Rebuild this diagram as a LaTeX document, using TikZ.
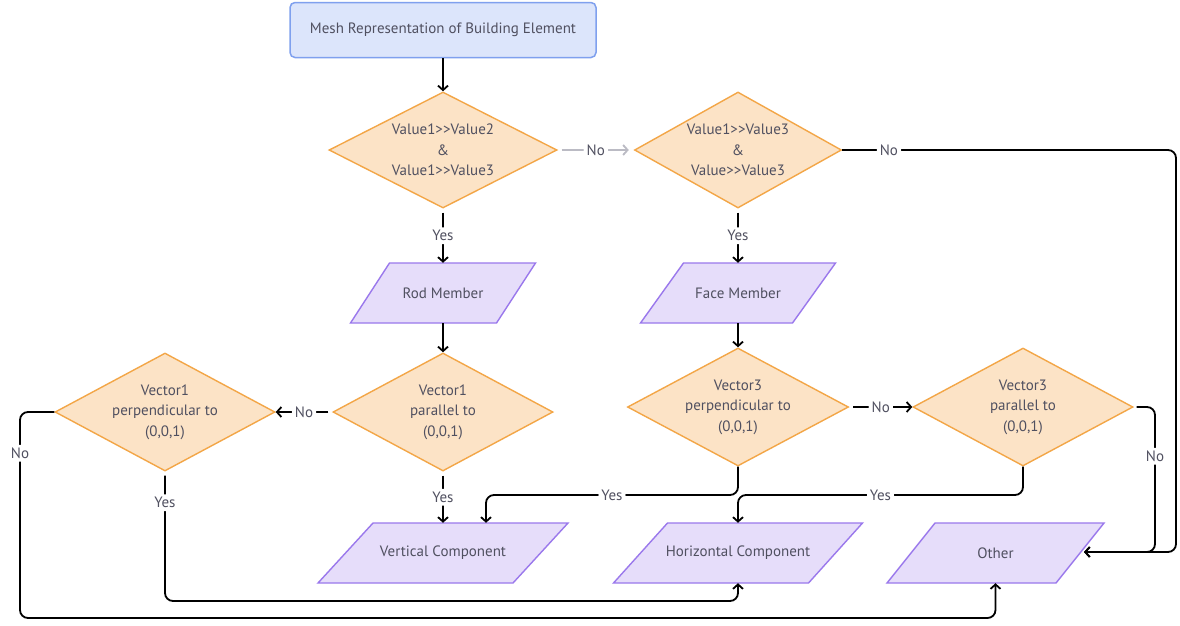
\documentclass[tikz,border=0pt]{standalone}
\usepackage{fontspec}
\setmainfont{PT Sans}
\usetikzlibrary{shapes.geometric,arrows.meta,calc}
\definecolor{startfill}{HTML}{DCE5FB}
\definecolor{startdraw}{HTML}{7FA0EE}
\definecolor{decfill}{HTML}{FCE3C6}
\definecolor{decdraw}{HTML}{F3A647}
\definecolor{iofill}{HTML}{E6DDFA}
\definecolor{iodraw}{HTML}{9A78EC}
\definecolor{txt}{HTML}{505060}
\definecolor{faint}{HTML}{BBBBC4}
\newcommand\dblgt{>\kern0pt>}
% #1 name, #2 cx, #3 cy, #4 body width, #5 slant, #6 text
\newcommand\iopara[6]{%
  \draw[iobox] (#2-#4/2-#5/2,#3+30) -- (#2+#4/2-#5/2,#3+30) -- (#2+#4/2+#5/2,#3-30) -- (#2-#4/2+#5/2,#3-30) -- cycle;
  \node[iolabel, minimum width=#4] (#1) at (#2,#3) {#6};
}
\begin{document}
\begin{tikzpicture}[x=1pt,y=-1pt, font=\fontsize{15}{20.5}\selectfont,
 startbox/.style={rectangle, rounded corners=5pt, draw=startdraw, fill=startfill, line width=1.5pt, minimum width=306pt, minimum height=55pt, text=txt},
 decision/.style={diamond, aspect=2, inner sep=-10pt, draw=decdraw, fill=decfill, line width=1.4pt, text=txt, align=center, minimum width=#1, minimum height=118pt},
 iolabel/.style={rectangle, inner sep=0pt, minimum height=60pt, text=txt},
 iobox/.style={draw=iodraw, fill=iofill, line width=1.4pt, line join=miter},
 arr/.style={-{Straight Barb[length=4.5pt,width=10pt]}, line width=1.8pt, draw=black, rounded corners=8pt},
 lbl/.style={fill=white, text=txt, inner sep=3pt},
]
\fill[white] (0,0) rectangle (1180,625);
\useasboundingbox (0,0) rectangle (1180,625);

\node[startbox] (start) at (443,30) {Mesh Representation of Building Element};
\node[decision=228pt, minimum height=116pt] (d1) at (443,150) {Value1\dblgt Value2\\\&\\Value1\dblgt Value3};
\node[decision=207pt, minimum height=116pt] (d2) at (738,150) {Value1\dblgt Value3\\\&\\Value\dblgt Value3};
\iopara{rod}{443}{293}{146}{39}{Rod Member}
\iopara{face}{738}{293}{152}{43}{Face Member}
\node[decision=220pt] (d3) at (443,412) {Vector1\\parallel to\\(0,0,1)};
\node[decision=220pt] (d4) at (165,412) {Vector1\\perpendicular to\\(0,0,1)};
\node[decision=221pt] (d5) at (738,407) {Vector3\\perpendicular to\\(0,0,1)};
\node[decision=220pt] (d6) at (1023,407) {Vector3\\parallel to\\(0,0,1)};
\iopara{vert}{443}{553}{195}{55}{Vertical Component}
\iopara{horiz}{738}{553}{195}{54}{Horizontal Component}
\iopara{other}{995.5}{553}{169}{48}{Other}

\coordinate (lane1) at (0,601);
\coordinate (lane2) at (0,618);
\coordinate (lane3) at (0,495);
\coordinate (lx) at (20,0);
\coordinate (vx) at (486,0);
\coordinate (rx1) at (1155,0);
\coordinate (rx2) at (1176,0);
\coordinate (otherin) at (1084,552);

\draw[arr] (start.south) -- (d1.north);
\draw[arr, draw=faint, shorten <=4pt, shorten >=5pt] (d1.east) -- node[lbl]{No} (d2.west);
\draw[arr, shorten <=4pt] (d1.south) -- node[lbl]{Yes} (rod.north);
\draw[arr, shorten <=4pt] (d2.south) -- node[lbl]{Yes} (face.north);
\draw[arr] (d2.east) -| node[lbl,pos=0.07]{No} (rx2 |- otherin) -- (otherin);
\draw[arr] (rod.south) -- (d3.north);
\draw[arr] (face.south) -- (d5.north);
\draw[arr, shorten <=4pt] (d3.west) -- node[lbl]{No} (d4.east);
\draw[arr, shorten <=4pt] (d3.south) -- node[lbl]{Yes} (vert.north);
\draw[arr, shorten <=4pt] (d4.south) -- node[lbl,pos=0.24]{Yes} (d4.south |- lane1) -| (horiz.south);
\draw[arr] (d4.west) -| node[lbl,pos=0.6]{No} (lx |- lane2) -| (other.south);
\draw[arr] (d5.south) |- node[lbl,pos=0.75]{Yes} (vx |- lane3) -- (vx |- vert.north);
\draw[arr, shorten <=4pt] (d5.east) -- node[lbl]{No} (d6.west);
\draw[arr] (d6.south) |- node[lbl,pos=0.75]{Yes} (horiz.north |- lane3) -- (horiz.north);
\draw[arr, shorten <=3pt] (d6.east) -| node[lbl,pos=0.67]{No} (rx1 |- otherin) -- (otherin);
\end{tikzpicture}
\end{document}
